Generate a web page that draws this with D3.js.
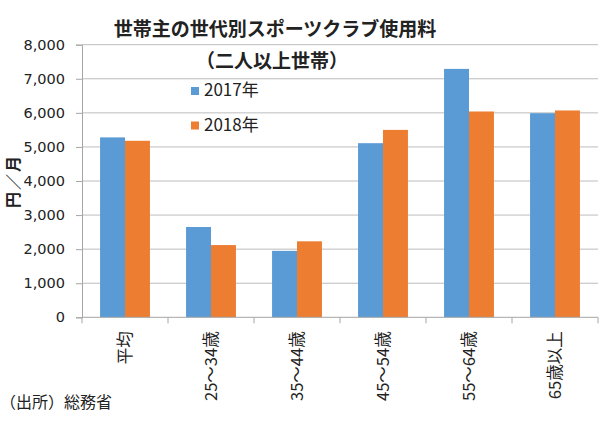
<!DOCTYPE html>
<html><head><meta charset="utf-8">
<script src="https://cdn.jsdelivr.net/npm/d3@7"></script>
<style>body{margin:0;background:#fff}svg{display:block}</style>
</head><body>
<svg id="c" width="600" height="422"></svg>
<script>
const categories = ["平均","25～34歳","35～44歳","45～54歳","55～64歳","65歳以上"];
const seriesNames = ["2017年","2018年"];
const values2017 = [5280,2650,1950,5110,7290,5990];
const values2018 = [5180,2120,2230,5500,6040,6070];
const yTicks = [0,1000,2000,3000,4000,5000,6000,7000,8000];
const colors = ["#5B9BD5","#ED7D31"];

const svg = d3.select("#c");
const JP = "'Noto Sans CJK JP','Noto Sans',sans-serif";
const NUM = "'DejaVu Sans',sans-serif";
const L = 82, R = 598, T = 44.7, B = 317.3;

const x = d3.scaleBand().domain(categories).range([L,R]).paddingInner(0.42).paddingOuter(0.21);
const y = d3.scaleLinear().domain([0,8000]).range([B,T]);
const xs = d3.scaleBand().domain([0,1]).range([0,x.bandwidth()]);

// gridlines
svg.append("g").selectAll("line").data(yTicks.filter(d=>d>0)).join("line")
  .attr("x1",L).attr("x2",R).attr("y1",d=>y(d)).attr("y2",d=>y(d))
  .attr("stroke","#bdbdbd").attr("stroke-width",1);

// y axis
const ya = svg.append("g").attr("transform",`translate(${L},0)`)
  .call(d3.axisLeft(y).tickValues(yTicks).tickFormat(d3.format(",")).tickSize(6).tickPadding(11));
ya.select(".domain").attr("stroke","#a6a6a6");
ya.selectAll(".tick line").attr("stroke","#a6a6a6");
ya.selectAll("text").attr("font-family",NUM).attr("font-size",14.5).attr("fill","#222");

// bars
const data = [values2017, values2018];
data.forEach((vals,si)=>{
  svg.append("g").selectAll("rect").data(vals).join("rect")
    .attr("x",(d,i)=>x(categories[i])+xs(si))
    .attr("width",xs.bandwidth())
    .attr("y",d=>y(d)).attr("height",d=>B-y(d))
    .attr("fill",colors[si]);
});

// x axis
const xb = d3.scaleLinear().domain([0,6]).range([L,R]);
const xa = svg.append("g").attr("transform",`translate(0,${B})`);
xa.append("line").attr("x1",L).attr("x2",R).attr("stroke","#a6a6a6");
xa.selectAll("line.t").data(d3.range(7)).join("line").attr("class","t")
  .attr("x1",d=>xb(d)).attr("x2",d=>xb(d)).attr("y1",0).attr("y2",6).attr("stroke","#a6a6a6");
xa.selectAll("text").data(categories).join("text")
  .attr("transform",d=>`translate(${x(d)+x.bandwidth()/2+6},14) rotate(-90)`)
  .attr("text-anchor","end").attr("font-family",JP).attr("font-size",16.5).attr("fill","#222")
  .text(d=>d);

// titles
svg.append("text").attr("x",275).attr("y",36).attr("text-anchor","middle")
  .attr("font-family",JP).attr("font-weight","bold").attr("font-size",19).attr("fill","#222")
  .text("世帯主の世代別スポーツクラブ使用料");
svg.append("text").attr("x",272).attr("y",68).attr("text-anchor","middle")
  .attr("font-family",JP).attr("font-weight","bold").attr("font-size",19).attr("fill","#222")
  .text("（二人以上世帯）");

// y title
svg.append("text").attr("transform","translate(19,181) rotate(-90)").attr("text-anchor","middle")
  .attr("font-family",JP).attr("font-weight","bold").attr("font-size",16).attr("letter-spacing",2).attr("fill","#222")
  .text("円／月");

// legend
const lg = svg.append("g");
seriesNames.forEach((n,i)=>{
  const yy = 96 + i*34.5;
  lg.append("rect").attr("x",191).attr("y",yy-9).attr("width",8).attr("height",8).attr("fill",colors[i]);
  lg.append("text").attr("x",204).attr("y",yy).attr("font-family",JP).attr("font-size",17).attr("fill","#222").text(n);
});

// source
svg.append("text").attr("x",0).attr("y",408).attr("font-family",JP).attr("font-size",16).attr("fill","#222")
  .text("（出所）総務省");
</script>
</body></html>
